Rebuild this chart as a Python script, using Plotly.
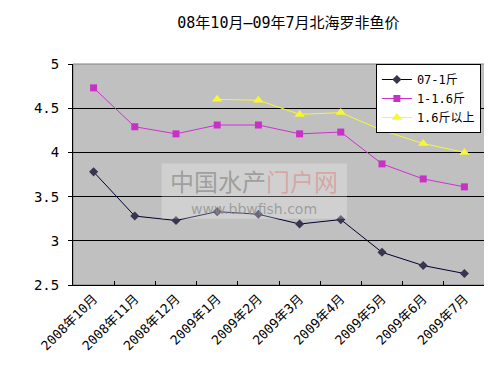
import plotly.graph_objects as go

categories = ["2008年10月", "2008年11月", "2008年12月", "2009年1月", "2009年2月",
              "2009年3月", "2009年4月", "2009年5月", "2009年6月", "2009年7月"]
s1_name = "07-1斤"
s1 = [3.78, 3.28, 3.23, 3.33, 3.30, 3.19, 3.24, 2.87, 2.72, 2.63]
s2_name = "1-1.6斤"
s2 = [4.73, 4.29, 4.21, 4.31, 4.31, 4.21, 4.23, 3.87, 3.70, 3.61]
s3_name = "1.6斤以上"
s3 = [None, None, None, 4.60, 4.59, 4.43, 4.45, 4.25, 4.10, 4.00]
y_ticks = [2.5, 3, 3.5, 4, 4.5, 5]
title = "08年10月—09年7月北海罗非鱼价"

cjk = "Noto Sans CJK SC"
mono = "DejaVu Sans Mono, Noto Sans CJK SC"

fig = go.Figure()
fig.add_trace(go.Scatter(x=categories, y=s1, name=s1_name, mode="lines+markers",
                         line=dict(color="#000033", width=1),
                         marker=dict(symbol="diamond", size=7, color="#3a3450")))
fig.add_trace(go.Scatter(x=categories, y=s2, name=s2_name, mode="lines+markers",
                         line=dict(color="#D030D0", width=1),
                         marker=dict(symbol="square", size=7, color="#C830C8")))
fig.add_trace(go.Scatter(x=categories, y=s3, name=s3_name, mode="lines+markers",
                         line=dict(color="#F8F830", width=1),
                         marker=dict(symbol="triangle-up", size=9, color="#F8F830")))

fig.update_layout(
    width=492, height=365,
    margin=dict(l=65, r=15, t=56, b=88),
    paper_bgcolor="white", plot_bgcolor="#C0C0C0",
    font=dict(family=cjk, size=12, color="black"),
    title=dict(text=title, x=0.57, xanchor="center", y=0.96, yanchor="middle",
               font=dict(size=15, family=mono, color="black")),
    showlegend=True,
    legend=dict(x=0.99, xanchor="right", y=1.0, yanchor="top",
                bgcolor="white", bordercolor="black", borderwidth=1,
                font=dict(size=12, family=mono), tracegroupgap=0,
                itemwidth=30),
    xaxis=dict(type="category", tickangle=-45, showline=True, linecolor="black",
               linewidth=1, ticks="inside", ticklen=4, tickcolor="black",
               tickson="boundaries", showgrid=False, zeroline=False,
               tickfont=dict(size=13, family=mono), range=[-0.5, 9.5]),
    yaxis=dict(range=[2.5, 5], tickvals=y_ticks, ticktext=[str(v) for v in y_ticks],
               showline=True, linecolor="black", linewidth=1, ticks="outside",
               ticklen=4, tickcolor="black", showgrid=True, gridcolor="black",
               gridwidth=1, zeroline=False, ticklabelstandoff=6,
               tickfont=dict(size=14, family=mono)),
    shapes=[dict(type="rect", xref="paper", yref="paper", x0=0, x1=1, y0=0, y1=1,
                 line=dict(color="#808080", width=1), layer="below"),
            dict(type="rect", xref="paper", yref="paper", x0=0.215, x1=0.665,
                 y0=0.3, y1=0.55, line=dict(width=0), fillcolor="rgba(255,255,255,0.25)",
                 layer="above")],
    annotations=[
        dict(text="中国水产<span style='color:rgba(220,120,120,0.75)'>门户网</span>",
             xref="paper", yref="paper", x=0.44, y=0.475, showarrow=False,
             font=dict(size=24, family=cjk, color="rgba(130,130,130,0.65)")),
        dict(text="www.bbwfish.com", xref="paper", yref="paper", x=0.44, y=0.345,
             showarrow=False,
             font=dict(size=14, family="DejaVu Sans", color="rgba(140,140,140,0.75)")),
    ],
)

fig.write_html("out.html")
